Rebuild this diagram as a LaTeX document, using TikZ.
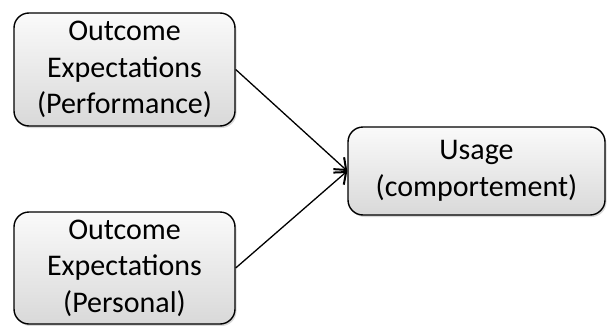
\documentclass[tikz,border=0pt]{standalone}
\usepackage{fontspec}
\setmainfont{Carlito}
\usetikzlibrary{arrows.meta,shadows}
\begin{document}
\begin{tikzpicture}[x=1pt,y=1pt,
  box/.style={draw=black, line width=1.4pt, rounded corners=15pt, top color=gray!4, bottom color=gray!30,
    drop shadow={shadow xshift=1.5pt, shadow yshift=-2pt, opacity=0.3},
    align=center, font=\fontsize{30}{36.5}\selectfont, inner sep=0pt},
  conn/.style={line width=1.3pt, -{Straight Barb[length=10pt,width=16pt,line width=2pt]}}]
\useasboundingbox (0,0) rectangle (607,325);
\node[box, minimum width=221pt, minimum height=113pt] (perf) at (124.5,255.5) {Outcome\\Expectations\\(Performance)};
\node[box, minimum width=221pt, minimum height=112pt] (pers) at (124.5,57) {Outcome\\Expectations\\(Personal)};
\node[box, minimum width=257pt, minimum height=88pt] (usage) at (476.5,154) {Usage\\(comportement)};
\draw[conn] (perf.east) -- (usage.west);
\draw[conn] (pers.east) -- (usage.west);
\end{tikzpicture}
\end{document}
